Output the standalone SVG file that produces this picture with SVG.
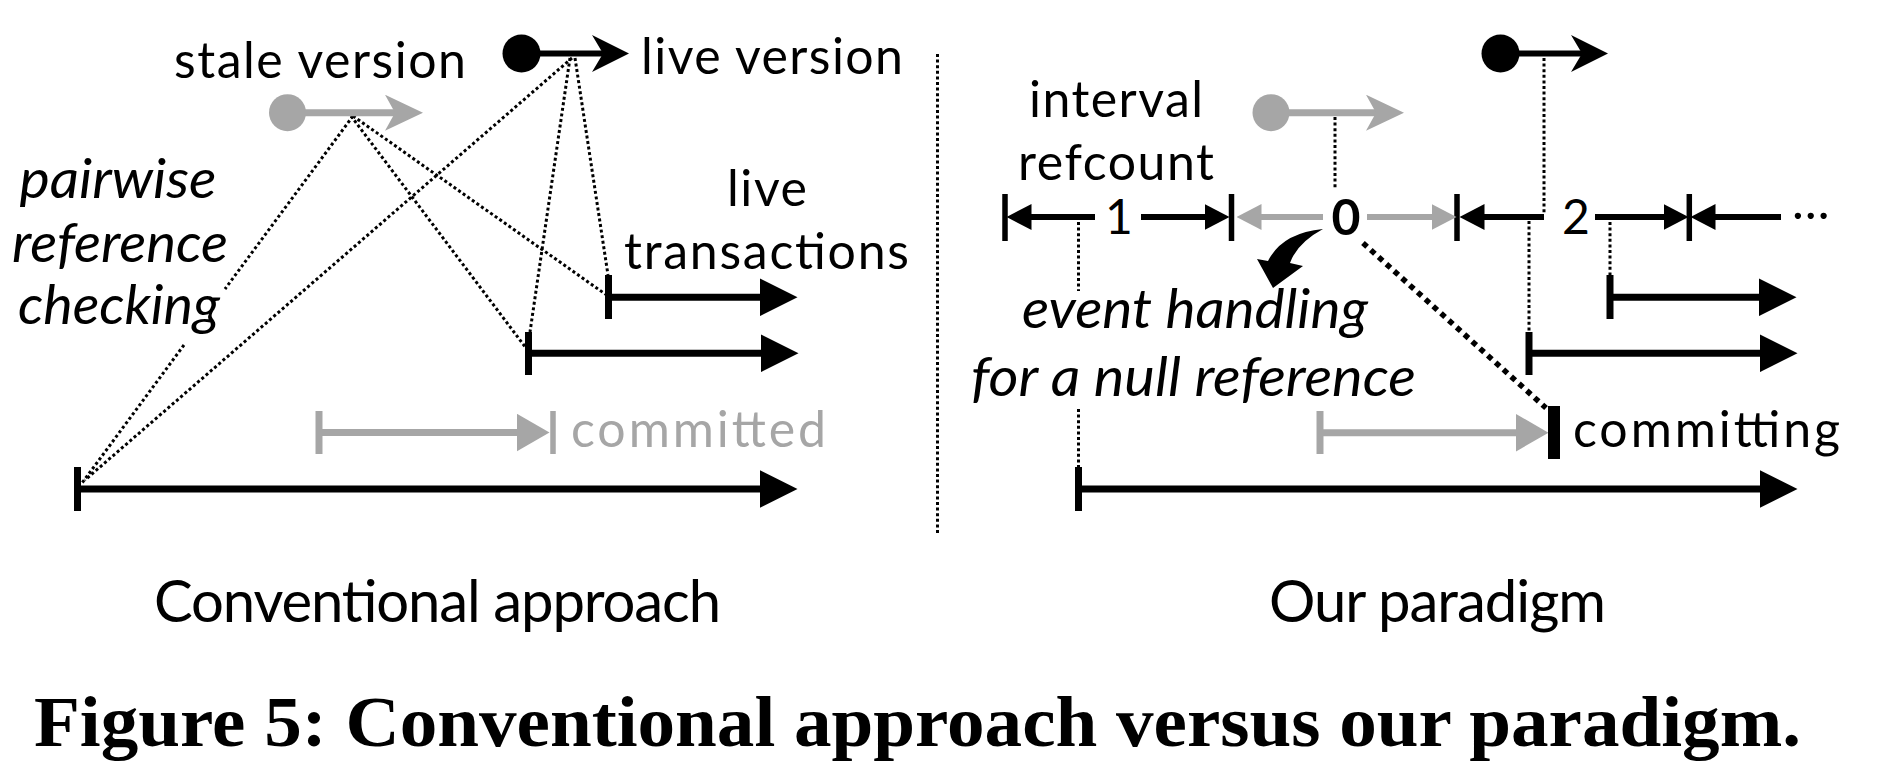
<svg xmlns="http://www.w3.org/2000/svg" width="1883" height="778" viewBox="0 0 1883 778">
<style>
.t{font-family:Lato,"Liberation Sans","DejaVu Sans",sans-serif;font-size:50px;fill:#000}
.it{font-style:italic;font-size:55px}
.gt{fill:#a6a6a6}
.k{stroke:#000;fill:none}
.g{stroke:#a6a6a6;fill:none}
.bar{stroke-width:7}
.tk{stroke-width:7}
.rb{stroke-width:6}
.rt{stroke-width:5.5}
.dot{stroke:#000;stroke-width:3;stroke-dasharray:3 2.6;fill:none}
.dia{stroke:#000;stroke-width:5.5;stroke-dasharray:5.5 5;fill:none}
.cap{font-family:"Liberation Serif","DejaVu Serif",serif;font-weight:bold;font-size:72px}
</style>
<defs>
<marker id="hd" viewBox="0 0 38 38" markerWidth="38" markerHeight="38" refX="0.5" refY="19" orient="auto" markerUnits="userSpaceOnUse"><path d="M0,0 L38,19 L0,38 Z" fill="#000"/></marker>
<marker id="hdg" viewBox="0 0 33 38" markerWidth="33" markerHeight="38" refX="0.5" refY="19" orient="auto" markerUnits="userSpaceOnUse"><path d="M0,0 L33,19 L0,38 Z" fill="#a6a6a6"/></marker>
<marker id="st" viewBox="0 0 37 37" markerWidth="37" markerHeight="37" refX="11" refY="18.5" orient="auto" markerUnits="userSpaceOnUse"><path d="M0,0 L37,18.5 L0,37 L11,18.5 Z" fill="#000"/></marker>
<marker id="stg" viewBox="0 0 38 36" markerWidth="38" markerHeight="36" refX="10" refY="18" orient="auto" markerUnits="userSpaceOnUse"><path d="M0,0 L38,18 L0,36 L10,18 Z" fill="#a6a6a6"/></marker>
<marker id="sm" viewBox="0 0 25 26" markerWidth="25" markerHeight="26" refX="0.5" refY="13" orient="auto" markerUnits="userSpaceOnUse"><path d="M0,0 L25,13 L0,26 Z" fill="#000"/></marker>
<marker id="smg" viewBox="0 0 25 26" markerWidth="25" markerHeight="26" refX="0.5" refY="13" orient="auto" markerUnits="userSpaceOnUse"><path d="M0,0 L25,13 L0,26 Z" fill="#a6a6a6"/></marker>
</defs>
<rect width="1883" height="778" fill="#fff"/>

<g id="connectors">
<line class="dot" x1="353" y1="116" x2="225" y2="289"/>
<line class="dot" x1="184" y1="345" x2="82" y2="483"/>
<line class="dot" x1="353" y1="116" x2="608" y2="296"/>
<line class="dot" x1="351" y1="116" x2="526" y2="348"/>
<line class="dot" x1="572" y1="58" x2="85" y2="480"/>
<line class="dot" x1="570" y1="58" x2="530" y2="332"/>
<line class="dot" x1="575" y1="58" x2="608" y2="275"/>
<line class="dot" x1="937.5" y1="54" x2="937.5" y2="534"/>
<line class="dot" x1="1335" y1="117" x2="1335" y2="188"/>
<line class="dot" x1="1544" y1="58" x2="1544" y2="214"/>
<line class="dot" x1="1078.5" y1="222" x2="1078.5" y2="291"/>
<line class="dot" x1="1078.5" y1="409" x2="1078.5" y2="468"/>
<line class="dot" x1="1529" y1="221" x2="1529" y2="333"/>
<line class="dot" x1="1610" y1="222" x2="1610" y2="276"/>
<line class="dia" x1="1363" y1="243" x2="1546" y2="408"/>
<path id="null-event-arrow" d="M1323,229 Q1282,233 1268,261 L1257,259 L1273,288 L1303,266 L1290,263 Q1297,243 1323,229 Z" fill="#000"/>
</g>

<g id="left-panel">
<g id="stale-version">
<circle cx="287.5" cy="112.7" r="18.5" fill="#a6a6a6"/>
<line class="g" x1="288" y1="112.7" x2="395" y2="112.7" stroke-width="7" marker-end="url(#stg)"/>
<text class="t" x="174" y="78" textLength="292">stale version</text>
</g>
<g id="live-version">
<circle cx="521.5" cy="53.5" r="19" fill="#000"/>
<line class="k" x1="521" y1="53.5" x2="603" y2="53.5" stroke-width="6" marker-end="url(#st)"/>
<text class="t" x="641" y="73.5" textLength="262">live version</text>
</g>
<g id="pairwise-label">
<text class="t it" x="118" y="198" text-anchor="middle" textLength="197" lengthAdjust="spacingAndGlyphs">pairwise</text>
<text class="t it" x="120" y="262" text-anchor="middle" textLength="216" lengthAdjust="spacingAndGlyphs">reference</text>
<text class="t it" x="119" y="324" text-anchor="middle" textLength="202" lengthAdjust="spacingAndGlyphs">checking</text>
</g>
<g id="live-transactions-label">
<text class="t" x="767" y="206" text-anchor="middle" textLength="80">live</text>
<text class="t" x="766.5" y="269" text-anchor="middle" textLength="285">transactions</text>
</g>
<g id="tx-upper">
<line class="k tk" x1="608.5" y1="275" x2="608.5" y2="319"/>
<line class="k bar" x1="608" y1="297.3" x2="760" y2="297.3" marker-end="url(#hd)"/>
</g>
<g id="tx-lower">
<line class="k tk" x1="528.5" y1="332" x2="528.5" y2="375"/>
<line class="k bar" x1="528" y1="353.3" x2="761" y2="353.3" marker-end="url(#hd)"/>
</g>
<g id="tx-committed">
<line class="g tk" x1="319" y1="411" x2="319" y2="454"/>
<line class="g bar" x1="319" y1="432.5" x2="517" y2="432.5" marker-end="url(#hdg)"/>
<line class="g" x1="553" y1="411" x2="553" y2="454" stroke-width="5.5"/>
<text class="t gt" x="571" y="447" textLength="255">committed</text>
</g>
<g id="tx-long-left">
<line class="k tk" x1="77.5" y1="467" x2="77.5" y2="511"/>
<line class="k bar" x1="77" y1="489" x2="760" y2="489" marker-end="url(#hd)"/>
</g>
<text id="title-left" class="t" x="154" y="622" style="font-size:58px" textLength="567">Conventional approach</text>
</g>

<g id="right-panel">
<g id="r-live-version">
<circle cx="1500.5" cy="53.5" r="19" fill="#000"/>
<line class="k" x1="1500" y1="53.5" x2="1582" y2="53.5" stroke-width="6" marker-end="url(#st)"/>
</g>
<g id="r-stale-version">
<circle cx="1271" cy="112.7" r="18.5" fill="#a6a6a6"/>
<line class="g" x1="1271" y1="112.7" x2="1376" y2="112.7" stroke-width="7" marker-end="url(#stg)"/>
</g>
<g id="interval-refcount-label">
<text class="t" x="1116" y="117" text-anchor="middle" textLength="174">interval</text>
<text class="t" x="1116" y="180" text-anchor="middle" textLength="196">refcount</text>
</g>
<g id="refcount-bar">
<line class="k rt" x1="1005" y1="194" x2="1005" y2="241"/>
<line class="k rt" x1="1231.5" y1="194" x2="1231.5" y2="241"/>
<line class="k rt" x1="1457" y1="194" x2="1457" y2="241"/>
<line class="k rt" x1="1689.3" y1="194" x2="1689.3" y2="241"/>
<line class="k rb" x1="1095" y1="217" x2="1031" y2="217" marker-end="url(#sm)"/>
<line class="k rb" x1="1141" y1="217" x2="1205" y2="217" marker-end="url(#sm)"/>
<line class="g rb" x1="1323" y1="217" x2="1261" y2="217" marker-end="url(#smg)"/>
<line class="g rb" x1="1367" y1="217" x2="1432" y2="217" marker-end="url(#smg)"/>
<line class="k rb" x1="1544" y1="217" x2="1484" y2="217" marker-end="url(#sm)"/>
<line class="k rb" x1="1595" y1="217" x2="1664" y2="217" marker-end="url(#sm)"/>
<line class="k rb" x1="1781" y1="217" x2="1715" y2="217" marker-end="url(#sm)"/>
<text class="t" x="1119" y="234" text-anchor="middle" style="font-size:48px">1</text>
<text class="t" x="1346" y="235" text-anchor="middle" font-weight="bold" style="font-size:50px">0</text>
<text class="t" x="1576" y="234" text-anchor="middle" style="font-size:48px">2</text>
<text class="t" x="1792" y="219">…</text>
</g>
<g id="event-label">
<text class="t it" x="1195" y="328" text-anchor="middle" textLength="346" lengthAdjust="spacingAndGlyphs">event handling</text>
<text class="t it" x="1193.5" y="396" text-anchor="middle" textLength="445" lengthAdjust="spacingAndGlyphs">for a null reference</text>
</g>
<g id="r-tx-upper">
<line class="k tk" x1="1610" y1="275" x2="1610" y2="319"/>
<line class="k bar" x1="1610" y1="297.3" x2="1759" y2="297.3" marker-end="url(#hd)"/>
</g>
<g id="r-tx-lower">
<line class="k tk" x1="1529" y1="332" x2="1529" y2="375"/>
<line class="k bar" x1="1529" y1="353.3" x2="1760" y2="353.3" marker-end="url(#hd)"/>
</g>
<g id="r-tx-committing">
<line class="g tk" x1="1320" y1="411" x2="1320" y2="454"/>
<line class="g bar" x1="1320" y1="432.7" x2="1516" y2="432.7" marker-end="url(#hdg)"/>
<rect x="1548" y="406" width="12" height="53" fill="#000"/>
<text class="t" x="1573" y="447" textLength="267">committing</text>
</g>
<g id="r-tx-long">
<line class="k tk" x1="1078.5" y1="467" x2="1078.5" y2="511"/>
<line class="k bar" x1="1078" y1="489" x2="1760" y2="489" marker-end="url(#hd)"/>
</g>
<text id="title-right" class="t" x="1269" y="622" style="font-size:58px" textLength="337">Our paradigm</text>
</g>

<text id="caption" class="cap" x="34" y="746" textLength="1767" lengthAdjust="spacingAndGlyphs">Figure 5: Conventional approach versus our paradigm.</text>
</svg>
